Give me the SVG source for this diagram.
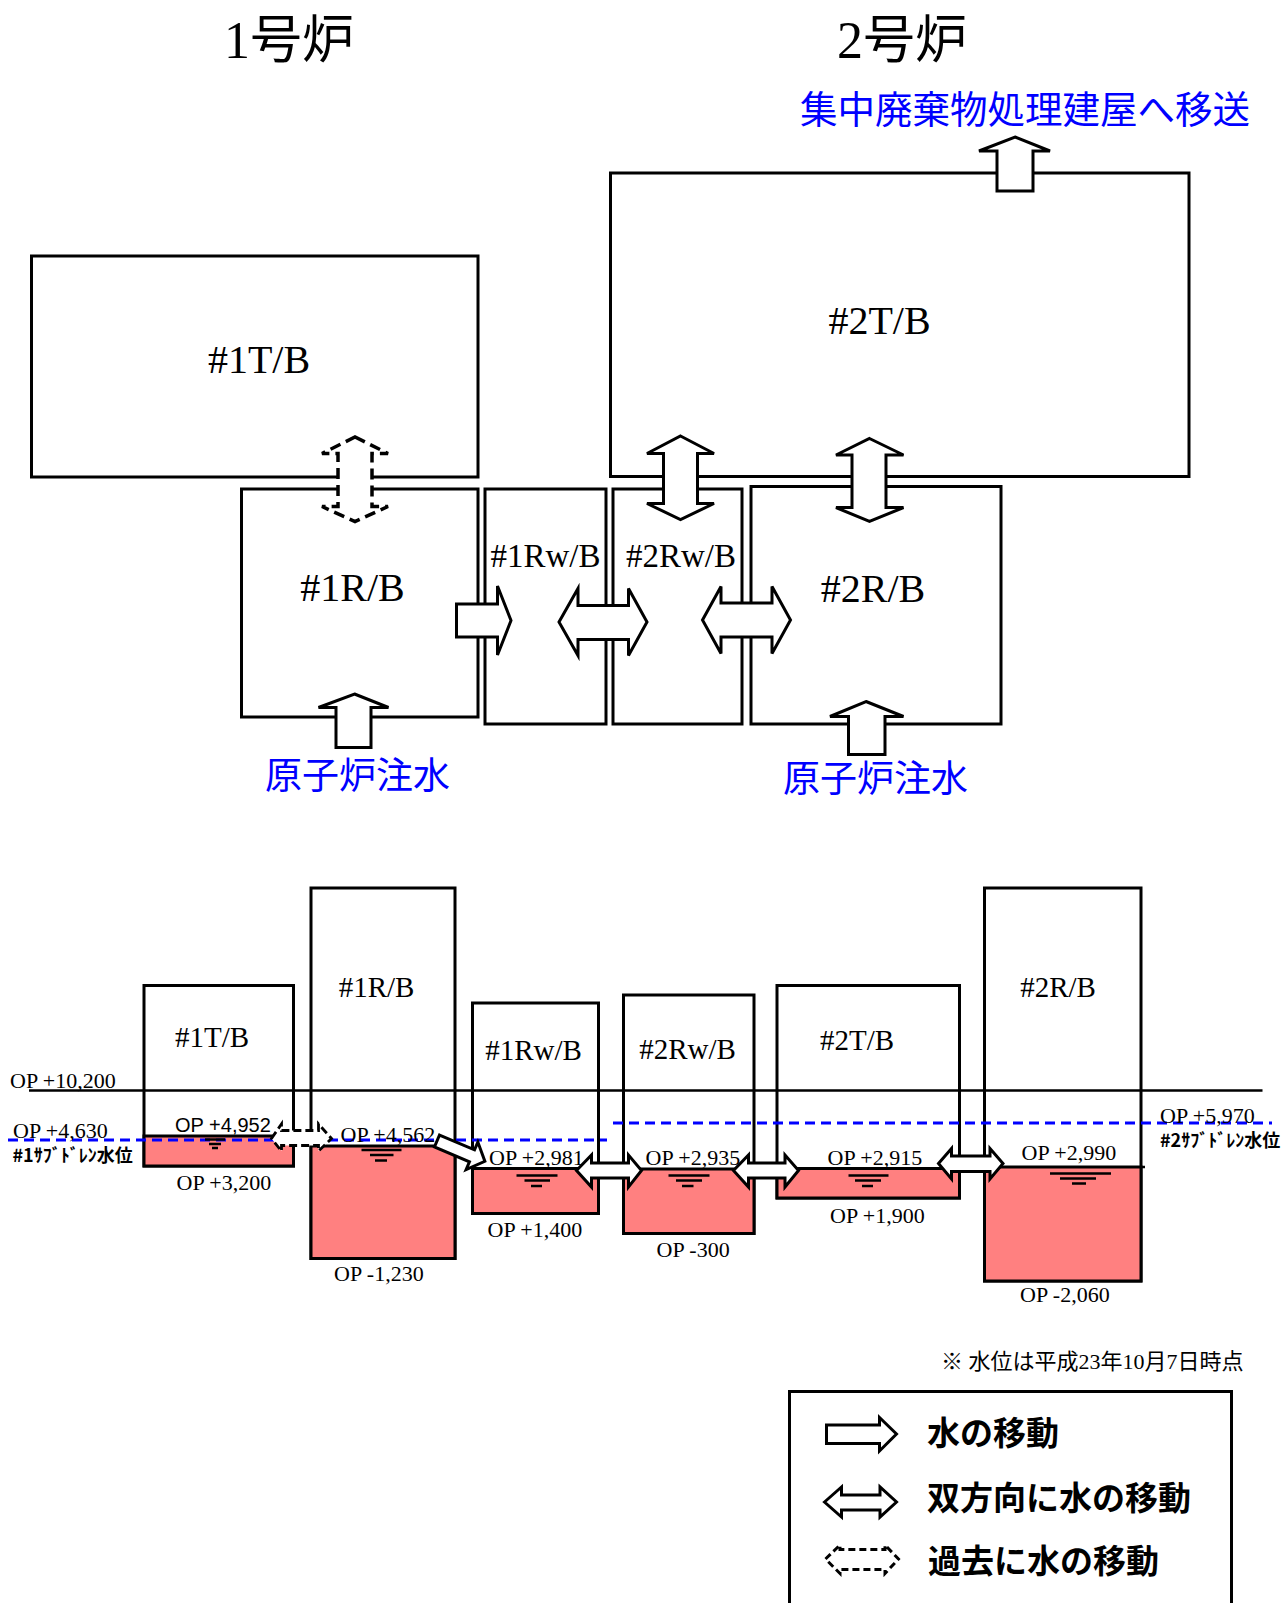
<svg xmlns="http://www.w3.org/2000/svg" width="1281" height="1603" viewBox="0 0 1281 1603">
<style>
.bld{fill:#fff;stroke:#000;stroke-width:3}
.box{fill:none;stroke:#000;stroke-width:3}
.water{fill:#FF8080;stroke:#000;stroke-width:3}
.arr{fill:#fff;stroke:#000;stroke-width:3;stroke-linejoin:miter}
.dsh{fill:#fff;stroke:#000;stroke-width:3.5;stroke-dasharray:11 6}
.dsh2{fill:#fff;stroke:#000;stroke-width:2.8;stroke-dasharray:8 4}
.dsh3{fill:#fff;stroke:#000;stroke-width:3;stroke-dasharray:7 4}
.sub{stroke:#0000FF;stroke-width:3;stroke-dasharray:10 6;fill:none}
.lvl{stroke:#000;stroke-width:2.5}
.sym{stroke:#000;stroke-width:2.5}
.tm{font-family:"Liberation Serif","Noto Sans CJK JP",serif;fill:#000}
.ttl{font-family:"Liberation Serif","Noto Sans CJK JP",serif;font-size:52px;fill:#000}
.blue{font-family:"Noto Sans CJK JP",sans-serif;fill:#0000FF}
.op{font-family:"Liberation Serif",serif;font-size:22px;fill:#000}
.sd{font-family:"Noto Sans CJK JP",sans-serif;font-size:18px;font-weight:bold;fill:#000}
.lg{font-family:"Noto Sans CJK JP",sans-serif;font-size:33px;font-weight:bold;fill:#000}
</style>
<rect width="1281" height="1603" fill="#fff"/>

<!-- titles -->
<text class="ttl" x="224" y="58">1号炉</text>
<text class="ttl" x="837" y="58">2号炉</text>
<text class="blue" x="800" y="123" font-size="37.5">集中廃棄物処理建屋へ移送</text>

<!-- top plan nodes -->
<g id="plan-1TB"><rect class="bld" x="31.5" y="256" width="446.5" height="221"/><text class="tm" x="259" y="373" font-size="40" text-anchor="middle">#1T/B</text></g>
<g id="plan-2TB"><rect class="bld" x="610.5" y="173" width="578.5" height="303.5"/><text class="tm" x="879.5" y="334" font-size="40" text-anchor="middle">#2T/B</text></g>
<g id="plan-1RB"><rect class="bld" x="241.5" y="489" width="236.5" height="228"/><text class="tm" x="352.5" y="601" font-size="40" text-anchor="middle">#1R/B</text></g>
<g id="plan-1RwB"><rect class="bld" x="485" y="489" width="121" height="235"/><text class="tm" x="545.5" y="567" font-size="33" text-anchor="middle">#1Rw/B</text></g>
<g id="plan-2RwB"><rect class="bld" x="613" y="489" width="129" height="235"/><text class="tm" x="681" y="567" font-size="33" text-anchor="middle">#2Rw/B</text></g>
<g id="plan-2RB"><rect class="bld" x="751" y="486.5" width="250" height="237.5"/><text class="tm" x="873" y="601.5" font-size="40" text-anchor="middle">#2R/B</text></g>

<!-- top plan connectors -->
<g id="plan-connectors">
<polygon class="arr" points="1015,137 1050,151 1033,151 1033,191 997,191 997,151 979,151"/>
<polygon class="dsh" points="355,437 388,453.5 372,453.5 372,506.5 388,506.5 355,521.5 322,506.5 338,506.5 338,453.5 322,453.5"/>
<polygon class="arr" points="680.5,436 714,453.5 697.5,453.5 697.5,503.5 714,503.5 680.5,519.5 647,503.5 663.5,503.5 663.5,453.5 647,453.5"/>
<polygon class="arr" points="869.5,438.5 903.5,455 886,455 886,507.5 903.5,507.5 869.5,521.5 836,507.5 852,507.5 852,455 836,455"/>
<polygon class="arr" points="456.5,604 497.5,604 497.5,586 511,620.5 497.5,655 497.5,637 456.5,637"/>
<polygon class="arr" points="559,622 578,588.5 578,605.5 628.5,605.5 628.5,588.5 647,622 628.5,655.5 628.5,639.5 578,639.5 578,655.5"/>
<polygon class="arr" points="702.5,620 721,586.5 721,603 772,603 772,586.5 790.5,620 772,653.5 772,637 721,637 721,653.5"/>
<polygon class="arr" points="354.5,694 388.5,707.5 371,707.5 371,747.5 336,747.5 336,707.5 318.5,707.5"/>
<polygon class="arr" points="866,701.5 903.5,716.5 885,716.5 885,754.5 848.5,754.5 848.5,716.5 830,716.5"/>
</g>
<text class="blue" x="265" y="789" font-size="37">原子炉注水</text>
<text class="blue" x="783" y="792" font-size="37">原子炉注水</text>

<!-- section nodes -->
<g id="sec-1TB"><rect class="box" x="144" y="985.5" width="149.5" height="180.5"/><rect class="water" x="144" y="1136" width="149.5" height="30"/><text class="tm" x="212" y="1047" font-size="29" text-anchor="middle">#1T/B</text></g>
<g id="sec-1RB"><rect class="box" x="311" y="888" width="144" height="370.5"/><rect class="water" x="311" y="1146" width="144" height="112.5"/><text class="tm" x="376.5" y="997" font-size="29" text-anchor="middle">#1R/B</text></g>
<g id="sec-1RwB"><rect class="box" x="472.5" y="1003" width="126" height="210.5"/><rect class="water" x="472.5" y="1168.5" width="126" height="45"/><text class="tm" x="533.5" y="1060" font-size="29" text-anchor="middle">#1Rw/B</text></g>
<g id="sec-2RwB"><rect class="box" x="623.5" y="995" width="130.5" height="238.5"/><rect class="water" x="623.5" y="1169" width="130.5" height="64.5"/><text class="tm" x="687.5" y="1059" font-size="29" text-anchor="middle">#2Rw/B</text></g>
<g id="sec-2TB"><rect class="box" x="777" y="985.5" width="182.5" height="212.5"/><rect class="water" x="777" y="1168.5" width="182.5" height="29.5"/><text class="tm" x="857" y="1050" font-size="29" text-anchor="middle">#2T/B</text></g>
<g id="sec-2RB"><rect class="box" x="984.5" y="888" width="156.5" height="393"/><rect class="water" x="984.5" y="1167" width="156.5" height="114"/><line class="lvl" x1="1140" y1="1167" x2="1145" y2="1167"/><text class="tm" x="1058" y="997" font-size="29" text-anchor="middle">#2R/B</text></g>

<!-- reference lines -->
<line x1="29" y1="1090.5" x2="1262.5" y2="1090.5" stroke="#000" stroke-width="2.5"/>
<line class="sub" x1="8" y1="1140" x2="607" y2="1140"/>
<line class="sub" x1="613" y1="1123" x2="1272" y2="1123"/>

<!-- water surface symbols -->
<g id="symbols">
<line class="sym" x1="205" y1="1139.5" x2="225" y2="1139.5"/><line class="sym" x1="209" y1="1144" x2="221" y2="1144"/><line class="sym" x1="212" y1="1148" x2="218" y2="1148"/>
<line class="sym" x1="361.5" y1="1150" x2="401.5" y2="1150"/><line class="sym" x1="370" y1="1155" x2="393.5" y2="1155"/><line class="sym" x1="375" y1="1160.5" x2="387" y2="1160.5"/>
<line class="sym" x1="516.5" y1="1175.5" x2="557.5" y2="1175.5"/><line class="sym" x1="524.5" y1="1180.5" x2="550" y2="1180.5"/><line class="sym" x1="531" y1="1186" x2="542" y2="1186"/>
<line class="sym" x1="668.5" y1="1175.5" x2="709.5" y2="1175.5"/><line class="sym" x1="676" y1="1180.5" x2="702" y2="1180.5"/><line class="sym" x1="682" y1="1186" x2="693.5" y2="1186"/>
<line class="sym" x1="848.5" y1="1175.5" x2="888.5" y2="1175.5"/><line class="sym" x1="855" y1="1180.5" x2="881" y2="1180.5"/><line class="sym" x1="862" y1="1186" x2="873" y2="1186"/>
<line class="sym" x1="1050" y1="1173.5" x2="1111" y2="1173.5"/><line class="sym" x1="1060" y1="1178.5" x2="1096" y2="1178.5"/><line class="sym" x1="1072" y1="1183.5" x2="1086" y2="1183.5"/>
</g>

<!-- section connectors -->
<g id="sec-connectors">
<polygon class="dsh2" points="271.5,1138.5 281.5,1124 281.5,1130.5 318.5,1130.5 318.5,1124 331.5,1138.5 318.5,1151 318.5,1145.5 281.5,1145.5 281.5,1151"/>
<polygon class="arr" transform="translate(437,1141) rotate(23)" points="0,-6.5 38,-6.5 38,-15 52,0 38,15 38,6.5 0,6.5"/>
<polygon class="arr" points="576.5,1170.5 591.5,1155 591.5,1163 628.5,1163 628.5,1155 641.5,1170.5 628.5,1187 628.5,1178 591.5,1178 591.5,1187"/>
<polygon class="arr" points="733.5,1170.5 748.5,1155 748.5,1163 785,1163 785,1155 798.5,1170.5 785,1187 785,1178 748.5,1178 748.5,1187"/>
<polygon class="arr" points="938.5,1163.5 951.5,1148.5 951.5,1156 990,1156 990,1148.5 1003,1163.5 990,1179 990,1171.5 951.5,1171.5 951.5,1179"/>
</g>

<!-- section labels -->
<text class="op" x="10" y="1088">OP +10,200</text>
<text class="op" x="13" y="1137.5">OP +4,630</text>
<text class="sd" x="12.5" y="1162">#1ｻﾌﾞﾄﾞﾚﾝ水位</text>
<text x="175" y="1131.5" font-family="Liberation Sans, sans-serif" font-size="20" fill="#000">OP +4,952</text>
<text class="op" x="176.5" y="1190">OP +3,200</text>
<text class="op" x="340.5" y="1141.5">OP +4,562</text>
<text class="op" x="334" y="1281">OP -1,230</text>
<text class="op" x="489" y="1165">OP +2,981</text>
<text class="op" x="487.5" y="1236.5">OP +1,400</text>
<text class="op" x="645.5" y="1165">OP +2,935</text>
<text class="op" x="656.5" y="1256.5">OP -300</text>
<text class="op" x="827.5" y="1165">OP +2,915</text>
<text class="op" x="830" y="1222.5">OP +1,900</text>
<text class="op" x="1021.5" y="1160">OP +2,990</text>
<text class="op" x="1020" y="1301.5">OP -2,060</text>
<text class="op" x="1160" y="1123">OP +5,970</text>
<text class="sd" x="1160" y="1146.5">#2ｻﾌﾞﾄﾞﾚﾝ水位</text>

<text class="tm" x="941" y="1369" font-size="22">※ 水位は平成23年10月7日時点</text>

<!-- legend -->
<g id="legend">
<rect class="box" x="789.5" y="1391.5" width="442" height="260"/>
<polygon class="arr" points="826.5,1425 879.5,1425 879.5,1417.5 896.5,1434 879.5,1451 879.5,1443.5 826.5,1443.5"/>
<polygon class="arr" points="824.5,1502 841.5,1487 841.5,1495 880,1495 880,1487 896.5,1502 880,1517 880,1510 841.5,1510 841.5,1517"/>
<polygon class="dsh3" points="825.5,1559 840,1545 840,1549.5 885,1549.5 885,1545 898.5,1559 885,1573.5 885,1569.5 840,1569.5 840,1573.5"/>
<text class="lg" x="927" y="1445">水の移動</text>
<text class="lg" x="927" y="1510">双方向に水の移動</text>
<text class="lg" x="928" y="1573">過去に水の移動</text>
</g>
</svg>
